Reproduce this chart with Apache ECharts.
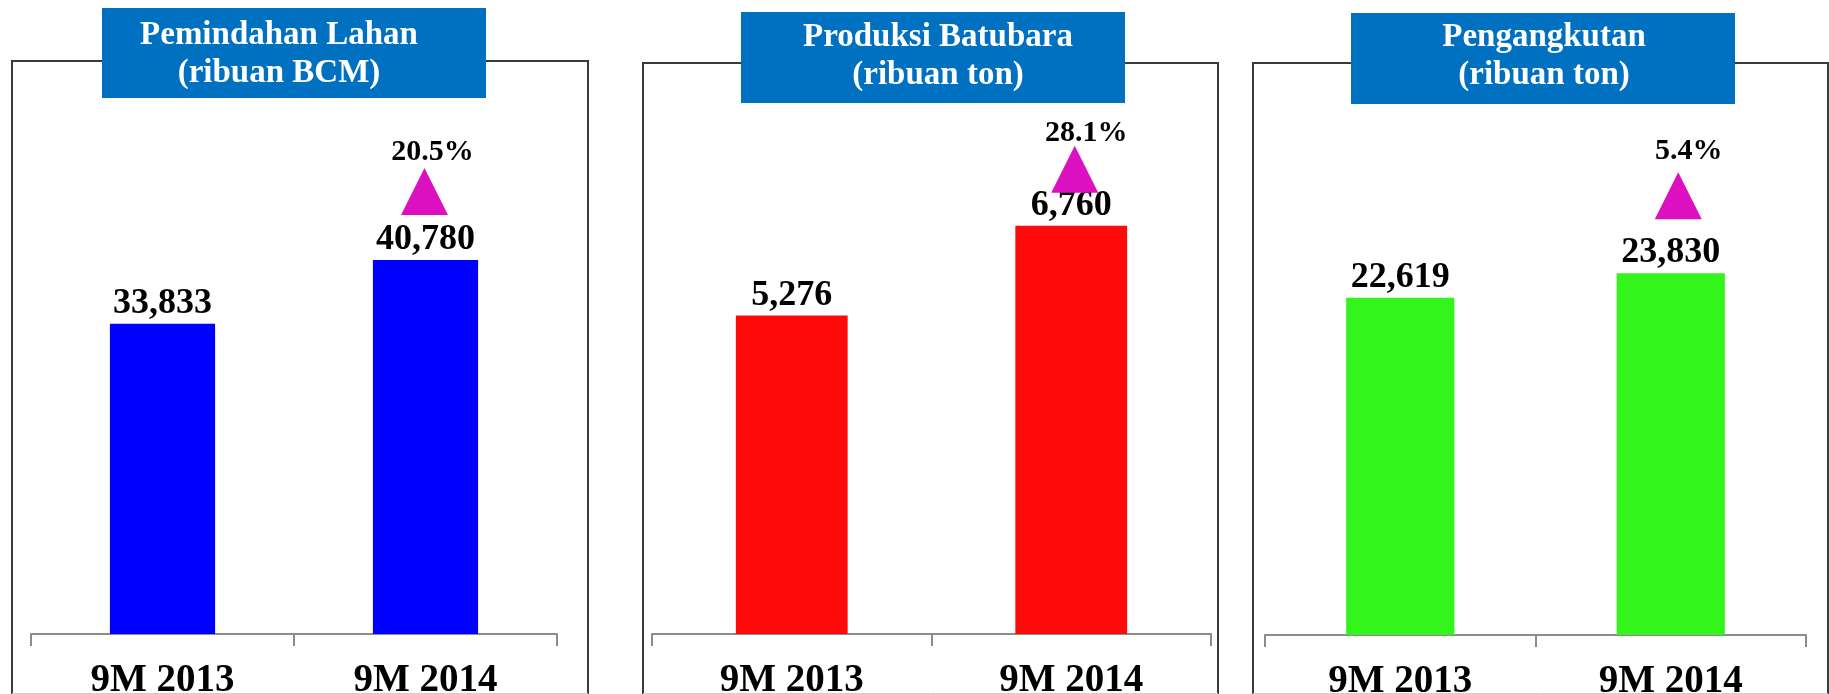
<!DOCTYPE html>
<html>
<head>
<meta charset="utf-8">
<title>Kinerja Operasional 9M 2014</title>
<script src="https://cdn.jsdelivr.net/npm/echarts@6/dist/echarts.min.js"></script>
<style>
  html, body { margin: 0; padding: 0; background: #fff; }
  #chart { width: 1829px; height: 694px; }
</style>
</head>
<body>
<div id="chart"></div>
<script>
// data
const categories = ['9M 2013', '9M 2014']
const lahanValues = [33833, 40780]      // Pemindahan Lahan (ribuan BCM)
const batubaraValues = [5276, 6760]     // Produksi Batubara (ribuan ton)
const angkutValues = [22619, 23830]     // Pengangkutan (ribuan ton)
const growthPct = [20.5, 28.1, 5.4]
const panelTitles = [
  'Pemindahan Lahan\n(ribuan BCM)',
  'Produksi Batubara\n(ribuan ton)',
  'Pengangkutan\n(ribuan ton)'
]

const FONT = '"Liberation Serif", "DejaVu Serif", serif'

// layout of each panel (px)
const panels = [
  {
    values: lahanValues, color: '#0000FF',
    border: [12, 61, 588], titleBox: [102, 8, 384, 90], titleX: 279, titleY: 54,
    grid: { left: 31, width: 526, top: 157, bottom: 60 }, yMin: 0, yMax: 52000,
    triOffset: [-1, -68.5], pctOffset: [8, -39]
  },
  {
    values: batubaraValues, color: '#FF0A0A',
    border: [643, 63, 1218], titleBox: [741, 12, 384, 91], titleX: 938, titleY: 56,
    grid: { left: 652, width: 559, top: 151, bottom: 60 }, yMin: 0, yMax: 8000,
    triOffset: [3.5, -56.5], pctOffset: [11.5, -36]
  },
  {
    values: angkutValues, color: '#33F41B',
    border: [1253, 63, 1828], titleBox: [1351, 13, 384, 91], titleX: 1544, titleY: 56,
    grid: { left: 1265, width: 541, top: 148, bottom: 59 }, yMin: 6000, yMax: 30000,
    triOffset: [7.5, -77.5], pctOffset: [10.5, -44.5]
  }
]

const chart = echarts.init(document.getElementById('chart'))

const graphic = []
panels.forEach((p, i) => {
  const [x1, y1, x2] = p.border
  // panel frame: dark left/top/right, faint bottom edge at the image border
  graphic.push({
    type: 'polyline',
    shape: { points: [[x1, 700], [x1, y1], [x2, y1], [x2, 700]] },
    style: { fill: 'none', stroke: '#3a3a3a', lineWidth: 2 }
  })
  graphic.push({
    type: 'line',
    shape: { x1: x1, y1: 693.5, x2: x2, y2: 693.5 },
    style: { stroke: '#cfcfcf', lineWidth: 1 }
  })
  graphic.push({
    type: 'rect',
    shape: { x: p.titleBox[0], y: p.titleBox[1], width: p.titleBox[2], height: p.titleBox[3] },
    style: { fill: '#0070C0' }
  })
  graphic.push({
    type: 'text',
    style: {
      text: panelTitles[i],
      x: p.titleX,
      y: p.titleY,
      font: 'bold 33px ' + FONT,
      lineHeight: 38,
      fill: '#ffffff',
      textAlign: 'center',
      textVerticalAlign: 'middle',
      align: 'center',
      verticalAlign: 'middle'
    }
  })
})

chart.setOption({
  animation: false,
  graphic: graphic,
  grid: panels.map(p => Object.assign({ containLabel: false, outerBoundsMode: 'none' }, p.grid)),
  xAxis: panels.map((p, i) => ({
    type: 'category',
    gridIndex: i,
    data: categories,
    axisLine: { lineStyle: { color: '#8c8c8c', width: 2 } },
    axisTick: { show: true, length: 12, lineStyle: { color: '#8c8c8c', width: 2 } },
    axisLabel: {
      margin: 27,
      color: '#000',
      fontFamily: FONT,
      fontWeight: 'bold',
      fontSize: 39
    }
  })),
  yAxis: panels.map((p, i) => ({
    type: 'value',
    gridIndex: i,
    min: p.yMin,
    max: p.yMax,
    show: false,
    splitLine: { show: false }
  })),
  series: panels.map((p, i) => ({
    type: 'bar',
    xAxisIndex: i,
    yAxisIndex: i,
    data: p.values,
    barWidth: '40%',
    itemStyle: { color: p.color },
    label: {
      show: true,
      position: 'top',
      distance: 2,
      color: '#000',
      fontFamily: FONT,
      fontWeight: 'bold',
      fontSize: 36,
      formatter: d => d.value.toLocaleString('en-US')
    },
    markPoint: {
      symbol: 'triangle',
      symbolSize: [47, 47],
      symbolOffset: p.triOffset,
      itemStyle: { color: '#DC10C0' },
      label: {
        show: true,
        position: 'inside',
        offset: p.pctOffset,
        color: '#000',
        fontFamily: FONT,
        fontWeight: 'bold',
        fontSize: 30,
        formatter: d => d.value.toFixed(1) + '%'
      },
      data: [{ coord: [categories[1], p.values[1]], value: growthPct[i] }]
    }
  }))
})
</script>
</body>
</html>
